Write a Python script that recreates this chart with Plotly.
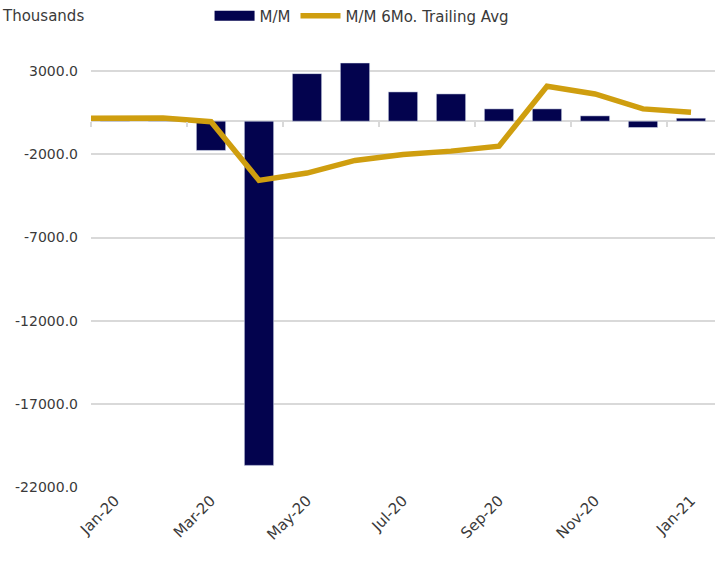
import plotly.graph_objects as go

# ---- data (thousands) ----
categories = ["Dec-19", "Jan-20", "Feb-20", "Mar-20", "Apr-20", "May-20", "Jun-20",
              "Jul-20", "Aug-20", "Sep-20", "Oct-20", "Nov-20", "Dec-20", "Jan-21"]
mm_change = [None, 250, 250, -1760, -20700, 2860, 3500,
             1760, 1640, 740, 740, 320, -380, 180]
trailing_avg = [180, 170, 190, -30, -3560, -3120, -2360,
                -2000, -1800, -1500, 2100, 1640, 740, 540]
tick_labels = categories[1::2]
y_ticks = [3000, -2000, -7000, -12000, -17000, -22000]
y_tick_text = [f"{v:.1f}" for v in y_ticks]

NAVY = "#03034e"
GOLD = "#cf9e0f"
GRID = "#d9d9d9"
TXT = "#3a3a3a"
FONT = "DejaVu Sans"

y_min, y_max = -22060, 3800

fig = go.Figure()
fig.add_trace(go.Bar(x=categories, y=mm_change, marker_color=NAVY, name="M/M",
                     showlegend=False))
# legend entry for bars (wide swatch like the reference)
fig.add_trace(go.Scatter(x=[None], y=[None], mode="lines", name="M/M",
                         line=dict(color=NAVY, width=11)))
fig.add_trace(go.Scatter(x=categories, y=trailing_avg, mode="lines",
                         name="M/M 6Mo. Trailing Avg",
                         line=dict(color=GOLD, width=5.5)))
# helper trace so the tick-mark axis at zero is rendered
fig.add_trace(go.Scatter(x=[None], y=[None], xaxis="x2", yaxis="y",
                         showlegend=False, hoverinfo="skip"))

n = len(categories)
zero_pos = (0 - y_min) / (y_max - y_min)

fig.update_layout(
    width=721, height=563,
    margin=dict(l=91, r=6, t=58, b=75, autoexpand=False),
    paper_bgcolor="white", plot_bgcolor="white",
    font=dict(family=FONT, color=TXT, size=14),
    bargap=0.39,
    xaxis=dict(type="category", categoryorder="array", categoryarray=categories,
               range=[0.5, n - 0.5], tickmode="array", tickvals=tick_labels,
               ticktext=tick_labels, tickangle=-45, showgrid=False,
               zeroline=False, showline=False, ticks="",
               tickfont=dict(size=15, color=TXT)),
    xaxis2=dict(overlaying="x", anchor="free", position=zero_pos, type="linear",
                range=[0.5, n - 0.5],
                tickmode="array", tickvals=[i - 0.5 for i in range(1, n, 2)],
                ticks="outside", ticklen=5, tickwidth=1.5, tickcolor=GRID,
                showticklabels=False, showgrid=False, zeroline=False,
                showline=False),
    yaxis=dict(range=[y_min, y_max], tickmode="array", tickvals=y_ticks,
               ticktext=y_tick_text, showgrid=True, gridcolor=GRID, gridwidth=1.5,
               zeroline=True, zerolinecolor=GRID, zerolinewidth=1.5,
               showline=False, ticks="", ticklabelstandoff=12,
               tickfont=dict(size=14, color=TXT)),
    legend=dict(orientation="h", x=0.19, xanchor="left",
                y=1 + (58 - 16) / 430, yanchor="middle",
                font=dict(size=15, color=TXT), itemwidth=40,
                bgcolor="rgba(0,0,0,0)"),
    annotations=[dict(text="Thousands", xref="paper", yref="paper",
                      x=-91 / 624, y=1 + (58 - 16) / 430, xanchor="left",
                      yanchor="middle", showarrow=False,
                      font=dict(size=15, color=TXT))],
)

fig.write_html("out.html", config={"displayModeBar": False},
               post_script="document.body.style.margin='0';document.body.style.overflow='hidden';")
